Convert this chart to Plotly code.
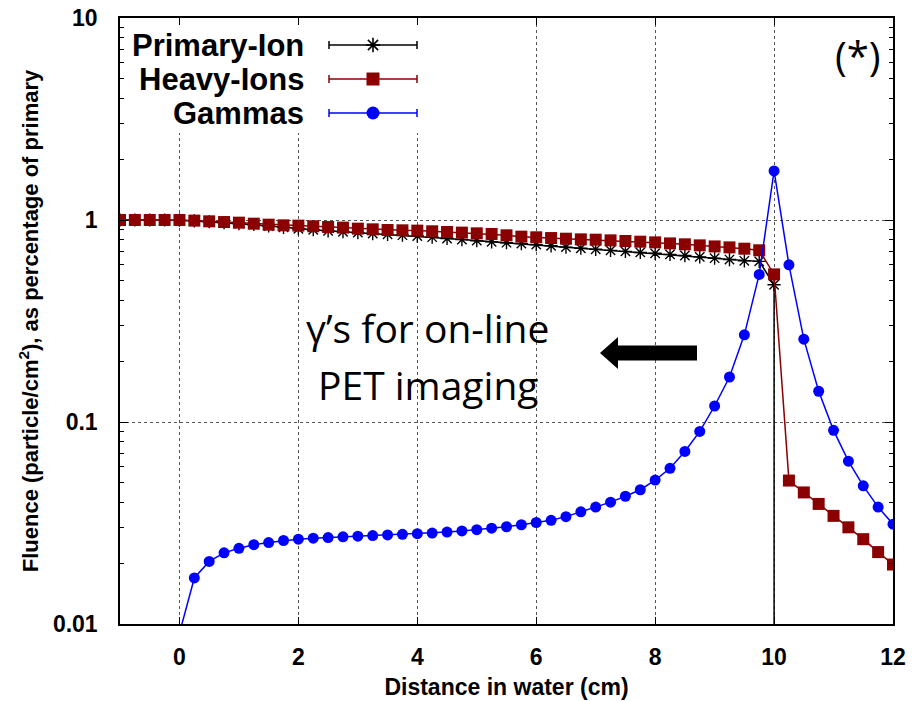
import plotly.graph_objects as go

# ---------------- data ----------------
x_ions = [-1.0, -0.75, -0.5, -0.25, 0.0, 0.25, 0.5, 0.75, 1.0, 1.25, 1.5, 1.75, 2.0, 2.25, 2.5, 2.75,
          3.0, 3.25, 3.5, 3.75, 4.0, 4.25, 4.5, 4.75, 5.0, 5.25, 5.5, 5.75, 6.0, 6.25, 6.5, 6.75,
          7.0, 7.25, 7.5, 7.75, 8.0, 8.25, 8.5, 8.75, 9.0, 9.25, 9.5, 9.75, 10.0]
primary_ion = [1.0, 1.0, 1.0, 1.0, 0.998, 0.99, 0.98, 0.97, 0.96, 0.95, 0.934, 0.92, 0.905, 0.895, 0.884, 0.875,
               0.866, 0.857, 0.849, 0.841, 0.833, 0.822, 0.810, 0.800, 0.790, 0.780, 0.772, 0.764, 0.755, 0.745, 0.734, 0.725,
               0.716, 0.707, 0.699, 0.691, 0.684, 0.676, 0.667, 0.657, 0.647, 0.637, 0.628, 0.624, 0.478]
# primary ions stop at the Bragg peak (fluence falls to ~0)
x_primary_end = [10.0]
primary_end = [1e-5]

x_heavy = x_ions + [10.25, 10.5, 10.75, 11.0, 11.25, 11.5, 11.75, 12.0]
heavy_ions = [1.0, 1.0, 1.0, 1.0, 1.0, 0.993, 0.985, 0.977, 0.970, 0.959, 0.948, 0.941, 0.938, 0.931, 0.923, 0.917,
              0.906, 0.899, 0.892, 0.889, 0.886, 0.879, 0.872, 0.866, 0.859, 0.853, 0.840, 0.827, 0.821, 0.814, 0.808, 0.802,
              0.799, 0.793, 0.787, 0.781, 0.775, 0.766, 0.758, 0.749, 0.740, 0.732, 0.721, 0.708, 0.538,
              0.0513, 0.0448, 0.0393, 0.0343, 0.0301, 0.0263, 0.0227, 0.0197]

x_gamma = [0.0, 0.25, 0.5, 0.75, 1.0, 1.25, 1.5, 1.75, 2.0, 2.25, 2.5, 2.75, 3.0, 3.25, 3.5, 3.75,
           4.0, 4.25, 4.5, 4.75, 5.0, 5.25, 5.5, 5.75, 6.0, 6.25, 6.5, 6.75, 7.0, 7.25, 7.5, 7.75,
           8.0, 8.25, 8.5, 8.75, 9.0, 9.25, 9.5, 9.75, 10.0, 10.25, 10.5, 10.75, 11.0, 11.25, 11.5, 11.75, 12.0]
gammas = [0.009, 0.0169, 0.0204, 0.0225, 0.0237, 0.0247, 0.0253, 0.0259, 0.0263, 0.0266, 0.0268, 0.0270, 0.0272, 0.0274, 0.0276, 0.0278,
          0.0280, 0.0282, 0.0285, 0.0289, 0.0293, 0.0298, 0.0303, 0.0310, 0.0318, 0.0326, 0.0340, 0.0359, 0.0379, 0.0401, 0.0429, 0.0462,
          0.0516, 0.0590, 0.0715, 0.0898, 0.120, 0.167, 0.270, 0.538, 1.75, 0.600, 0.257, 0.142, 0.0909, 0.0640, 0.0483, 0.0379, 0.0312]

x_ticks = [0, 2, 4, 6, 8, 10, 12]
y_ticks = [0.01, 0.1, 1, 10]
y_tick_text = ["0.01", "0.1", "1", "10"]
y_minor = [m * d for d in (0.01, 0.1, 1) for m in range(2, 10)]

series_names = ["Primary-Ion", "Heavy-Ions", "Gammas"]
series_colors = ["#000000", "#8b0000", "#0000ff"]
series_symbols = ["asterisk-open", "square", "circle"]

# ---------------- figure ----------------
fig = go.Figure()

fig.add_trace(go.Scatter(
    x=x_ions + x_primary_end, y=primary_ion + primary_end, mode="lines",
    line=dict(color=series_colors[0], width=1.5), showlegend=False, hoverinfo="skip"))
fig.add_trace(go.Scatter(
    x=x_ions, y=primary_ion, mode="markers",
    marker=dict(symbol=series_symbols[0], size=11, color=series_colors[0],
                line=dict(color=series_colors[0], width=1.4)),
    name=series_names[0], showlegend=False))
fig.add_trace(go.Scatter(
    x=x_heavy, y=heavy_ions, mode="lines+markers",
    line=dict(color=series_colors[1], width=1.5),
    marker=dict(symbol=series_symbols[1], size=12, color=series_colors[1]),
    name=series_names[1], showlegend=False))
fig.add_trace(go.Scatter(
    x=x_gamma, y=gammas, mode="lines+markers",
    line=dict(color=series_colors[2], width=1.5),
    marker=dict(symbol=series_symbols[2], size=11, color=series_colors[2]),
    name=series_names[2], showlegend=False))

# ---------------- custom key (text left, sample right, gnuplot style) ----------------
# overlay axis in pixel-like units for placing the key
fig.add_trace(go.Scatter(
    x=[120, 420, 420, 120, 120], y=[19, 19, 133, 133, 19], fill="toself",
    fillcolor="white", line=dict(width=0), mode="lines",
    xaxis="x2", yaxis="y2", showlegend=False, hoverinfo="skip"))
key_rows = [45, 79, 113]
key_x0, key_x1, key_xm = 329, 417, 373
for name, col, sym, ry in zip(series_names, series_colors, series_symbols, key_rows):
    fig.add_trace(go.Scatter(
        x=[key_x0, key_x1], y=[ry, ry], mode="lines", line=dict(color=col, width=1.5),
        xaxis="x2", yaxis="y2", showlegend=False, hoverinfo="skip"))
    mk = dict(symbol=sym, size=13 if sym != "asterisk-open" else 12, color=col)
    if sym == "asterisk-open":
        mk["line"] = dict(color=col, width=1.6)
    fig.add_trace(go.Scatter(
        x=[key_xm], y=[ry], mode="markers", marker=mk,
        xaxis="x2", yaxis="y2", showlegend=False, hoverinfo="skip"))
    for cx in (key_x0, key_x1):
        fig.add_shape(type="line", xref="x2", yref="y2", x0=cx, x1=cx, y0=ry - 4, y1=ry + 4,
                      line=dict(color=col, width=1.5))
    fig.add_annotation(xref="x2", yref="y2", x=306, y=ry, text=name, showarrow=False,
                       xanchor="right", yanchor="middle",
                       font=dict(family="Liberation Sans", size=31, color="black", weight="bold"))

# annotations
fig.add_annotation(xref="x2", yref="y2", x=858, y=55, text="(*)", showarrow=False,
                   xanchor="center", yanchor="middle",
                   font=dict(family="Open Sans", size=40, color="black"))
fig.add_annotation(xref="x2", yref="y2", x=427, y=327, text="γ’s for on-line", showarrow=False,
                   xanchor="center", yanchor="middle",
                   font=dict(family="Open Sans", size=39, color="black"))
fig.add_annotation(xref="x2", yref="y2", x=428, y=384, text="PET imaging", showarrow=False,
                   xanchor="center", yanchor="middle",
                   font=dict(family="Open Sans", size=39, color="black"))
fig.add_shape(type="path", xref="x2", yref="y2",
              path="M 697 345.5 L 618 345.5 L 618 337 L 600 353 L 618 369 L 618 360.5 L 697 360.5 Z",
              fillcolor="black", line=dict(width=0))

tick_font = dict(family="Liberation Sans", size=23, color="black", weight="bold")
title_font_x = dict(family="Liberation Sans", size=23, color="black", weight="bold")
title_font_y = dict(family="Liberation Sans", size=22, color="black", weight="bold")
fig.update_layout(
    width=912, height=701,
    margin=dict(l=120, r=19, t=18, b=77),
    paper_bgcolor="white", plot_bgcolor="white",
    showlegend=False,
    xaxis=dict(
        range=[-1, 12], tickvals=x_ticks, ticks="inside", ticklen=7, tickwidth=1.2, tickcolor="black",
        showline=True, linecolor="black", linewidth=1.5, mirror="allticks",
        showgrid=True, gridcolor="#555555", griddash="dot", gridwidth=1,
        zeroline=False, tickfont=tick_font, ticklabelstandoff=12, automargin=False,
        title=dict(text="Distance in water (cm)", font=title_font_x, standoff=10),
    ),
    yaxis=dict(
        type="log", range=[-2, 1], tickvals=y_ticks, ticktext=y_tick_text,
        ticks="inside", ticklen=8, tickwidth=1.2, tickcolor="black",
        minor=dict(tickvals=y_minor, ticks="inside", ticklen=4, tickcolor="black", showgrid=False),
        showline=True, linecolor="black", linewidth=1.5, mirror="allticks",
        showgrid=True, gridcolor="#555555", griddash="dot", gridwidth=1,
        zeroline=False, tickfont=tick_font, ticklabelstandoff=16, automargin=False,
        title=dict(text="Fluence (particle/cm<sup>2</sup>), as percentage of primary",
                   font=title_font_y, standoff=8),
    ),
    xaxis2=dict(overlaying="x", range=[120, 893], visible=False, fixedrange=True),
    yaxis2=dict(overlaying="y", range=[624, 18], visible=False, fixedrange=True),
)

fig.write_html("out.html")
